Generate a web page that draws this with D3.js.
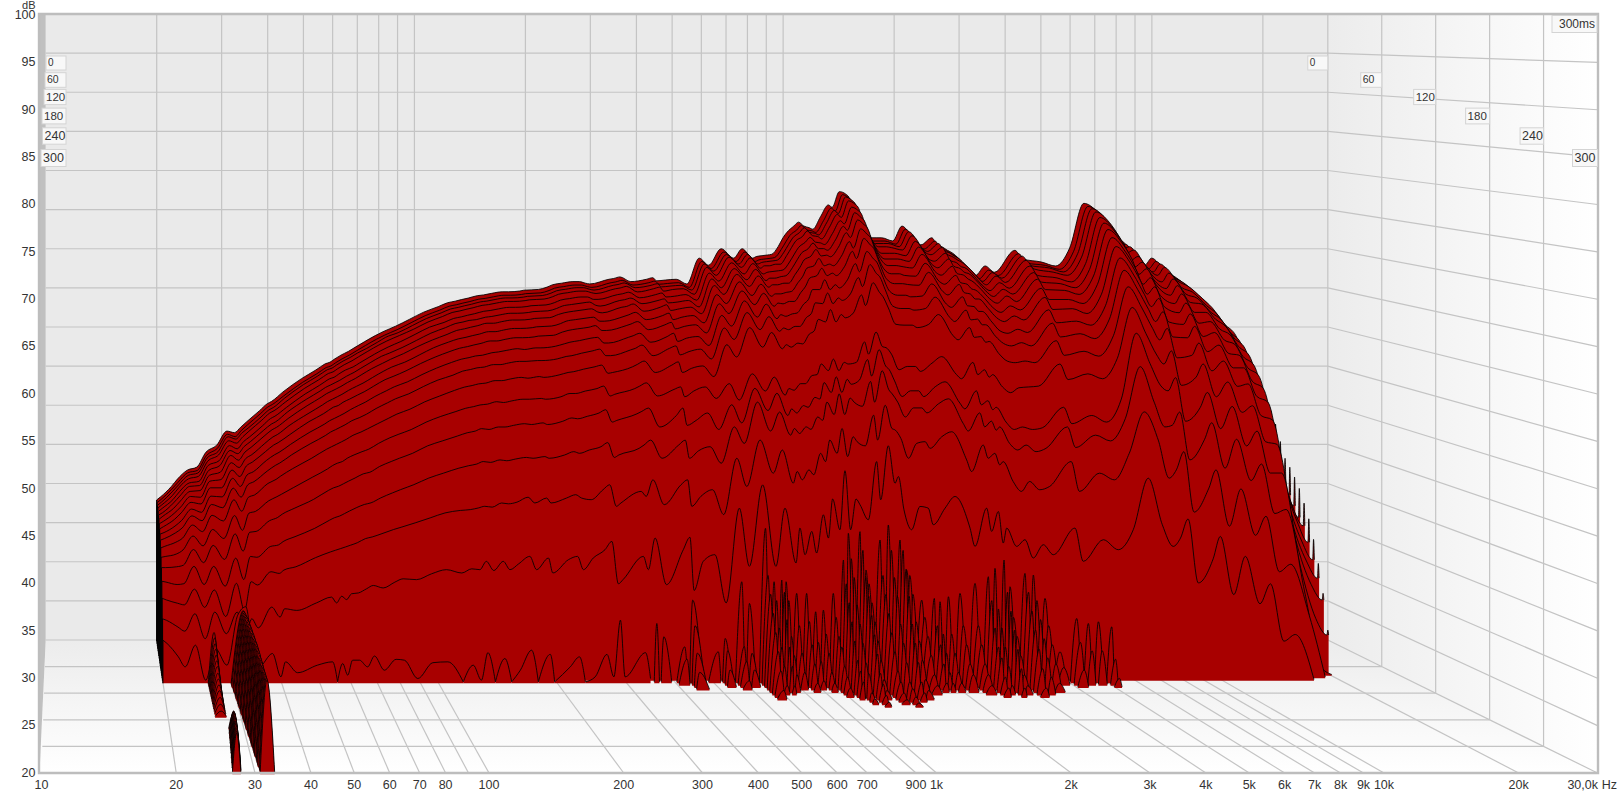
<!DOCTYPE html>
<html><head><meta charset="utf-8"><style>html,body{margin:0;background:#fff}svg{display:block}</style>
<script src="https://cdn.jsdelivr.net/npm/d3@7"></script></head><body>
<svg id="c" width="1617" height="795"></svg>
<script>
// ---------- axis labels ----------
const dbTicks=[100,95,90,85,80,75,70,65,60,55,50,45,40,35,30,25,20];
const freqTicks=[10,20,30,40,50,60,70,80,90,100,200,300,400,500,600,700,800,900,1000,2000,3000,4000,5000,6000,7000,8000,9000,10000,20000,30000];
const freqLabels=["10","20","30","40","50","60","70","80","","100","200","300","400","500","600","700","","900","1k","2k","3k","4k","5k","6k","7k","8k","9k","10k","20k","30,0k"];
const timeTicks=[0,60,120,180,240,300];
const timeLabelY=[63,80,97,116,136,158];
const timeLabelFont=[10,10.5,11.5,11.5,12.5,12.5];
const timeStepMs=300/54;
// ---------- frequencies of the full slices ----------
const lowFreqs=[20,20.5,21.9,22.8,24.2,25.7,27.2,29.1,31,32.5,33.8,35.1,38,39.9,41,44,49.4,54,55.6,57.3,59,60.7,63.2,66.3,69,73.1,78.3,82.2,88.9,97.1,106,116,123,129,134,140,148,154,162,173,180,193,198,217,229,237,251,269,280,291,299,337,347];
const midFreqs=[361,386,426,443,454,479,513,548,592,628,679,734,774,826,845,871,906,932,970,999,1024,1069,1101,1138,1175,1203,1263,1326,1358,1420,1477,1507,1557,1629,1710,1796,1850,1982,2101,2295,2363,2530,2606,2710,2790,2846,3018,3170,3327,3529,3743,4250,4463,5021,5482,5985];
const highFreqs=[6537,7100,7570,7900,8260,8770,9570,9980,10800,11560,12600,13400,14500,15500,17300,19000,20300,20400,20500];
// ---------- dB per slice (0 = below the 20 dB floor) ----------
const lowDb=[
[37.9,38.3,39.6,40.6,41.7,42.1,44,44.9,46.7,46.5,47.2,47.9,49.3,50.2,50.5,51.7,53.4,54.5,54.9,55.3,55.5,55.9,56.4,56.9,57.4,58.1,58.9,59.4,60.1,61,61.9,62.6,63.1,63.3,63.5,63.7,64,64.1,64.3,64.5,64.5,64.6,64.7,64.8,65.1,65.4,65.6,65.8,65.8,65.6,65.5,66.1,66.2],
[37.8,38.2,39.5,40.4,41.6,41.9,43.8,44.7,46.5,46.2,47,47.7,49.1,50,50.3,51.4,53.1,54.2,54.6,55,55.2,55.6,56.1,56.6,57.1,57.8,58.6,59.1,59.8,60.7,61.6,62.3,62.8,63,63.2,63.4,63.7,63.8,64,64.2,64.2,64.3,64.4,64.5,64.8,65.1,65.3,65.5,65.5,65.3,65.2,65.8,65.9],
[37.7,38.1,39.4,40.3,41.5,41.8,43.7,44.5,46.4,46.1,46.9,47.5,48.9,49.8,50.1,51.3,53,54.1,54.5,54.9,55.1,55.5,56,56.5,57,57.6,58.4,59,59.6,60.5,61.4,62.1,62.6,62.8,63,63.2,63.5,63.6,63.8,64,64,64.1,64.2,64.3,64.6,64.9,65.1,65.3,65.3,65.1,65,65.6,65.7],
[37.6,38,39.2,40.2,41.3,41.6,43.5,44.3,46.1,45.8,46.6,47.3,48.7,49.6,49.9,51,52.7,53.8,54.2,54.6,54.8,55.2,55.7,56.2,56.7,57.4,58.2,58.7,59.4,60.2,61.1,61.8,62.3,62.5,62.7,62.9,63.2,63.3,63.5,63.7,63.7,63.8,63.9,64,64.3,64.6,64.8,65,65,64.8,64.7,65.3,65.4],
[37.4,37.8,38.9,39.9,41,41.2,43.2,43.8,45.7,45.3,46.2,46.8,48.2,49.1,49.4,50.5,52.2,53.3,53.7,54.1,54.3,54.7,55.2,55.6,56.1,56.8,57.6,58.1,58.8,59.7,60.6,61.2,61.7,61.9,62.1,62.3,62.6,62.7,62.9,63.1,63.1,63.2,63.3,63.4,63.7,64,64.2,64.4,64.4,64.1,64.1,64.7,64.8],
[37.2,37.5,38.7,39.6,40.8,40.9,42.8,43.4,45.3,44.9,45.8,46.4,47.8,48.6,48.9,50.1,51.7,52.8,53.2,53.5,53.8,54.1,54.6,55.1,55.6,56.3,57.1,57.5,58.2,59.1,60,60.7,61.2,61.4,61.6,61.7,62,62.1,62.3,62.5,62.5,62.6,62.7,62.8,63.1,63.4,63.6,63.8,63.9,63.5,63.4,64.1,64.2],
[36.9,37.3,38.3,39.2,40.4,40.5,42.4,42.8,44.9,44.3,45.3,45.9,47.3,48.1,48.4,49.5,51.1,52.2,52.6,52.9,53.2,53.5,54,54.5,55,55.7,56.4,56.9,57.6,58.5,59.3,60,60.5,60.7,60.9,61.1,61.4,61.4,61.6,61.8,61.8,61.9,62,62.1,62.5,62.7,62.9,63.1,63.2,62.8,62.7,63.4,63.5],
[36.6,36.9,37.9,38.7,40,39.9,41.9,42.1,44.2,43.6,44.7,45.2,46.6,47.4,47.7,48.8,50.3,51.4,51.8,52.1,52.4,52.7,53.2,53.7,54.1,54.8,55.6,56.1,56.7,57.6,58.5,59.2,59.6,59.8,60,60.2,60.5,60.5,60.7,60.9,60.9,61,61.1,61.2,61.5,61.8,62,62.2,62.3,61.8,61.8,62.4,62.6],
[36.2,36.5,37.4,38.2,39.5,39.3,41.3,41.3,43.5,42.7,44,44.5,45.8,46.6,46.9,47.9,49.5,50.5,50.9,51.3,51.5,51.9,52.3,52.8,53.2,53.9,54.7,55.1,55.8,56.7,57.5,58.2,58.6,58.8,59,59.2,59.5,59.5,59.7,59.9,59.9,60,60.1,60.2,60.6,60.8,61,61.2,61.4,60.8,60.8,61.4,61.6],
[35.8,36,36.8,37.5,38.9,38.5,40.5,40.4,42.7,41.7,43.1,43.5,44.9,45.6,45.9,46.9,48.4,49.4,49.8,50.1,50.4,50.7,51.2,51.7,52.1,52.8,53.5,54,54.6,55.5,56.3,57,57.4,57.6,57.8,57.9,58.2,58.3,58.5,58.7,58.6,58.8,58.8,59,59.3,59.5,59.7,60,60.1,59.4,59.4,60.1,60.3],
[35.3,35.5,36.2,36.8,38.3,37.7,39.7,39.3,41.7,40.6,42.1,42.5,43.8,44.5,44.8,45.8,47.2,48.2,48.6,48.9,49.2,49.5,50,50.4,50.8,51.5,52.2,52.7,53.3,54.2,55,55.6,56.1,56.3,56.5,56.6,56.9,56.9,57.1,57.3,57.3,57.4,57.4,57.6,57.9,58,58.3,58.6,58.8,58,58,58.7,58.9],
[34.6,34.8,35.3,35.8,37.4,36.6,38.6,37.9,40.5,39.1,40.8,41.1,42.5,43,43.4,44.3,45.6,46.7,47,47.3,47.6,47.9,48.4,48.8,49.2,49.8,50.5,51,51.6,52.5,53.2,53.9,54.3,54.5,54.7,54.8,55.1,55.1,55.3,55.5,55.4,55.6,55.5,55.8,56.1,56.2,56.5,56.8,57,56,56.1,56.8,57.1],
[33.7,33.8,34.1,34.6,36.3,35.1,37.1,36,38.8,37,39.1,39.3,40.6,41.1,41.4,42.2,43.5,44.5,44.9,45.2,45.4,45.8,46.2,46.6,46.9,47.6,48.3,48.7,49.3,50.2,50.9,51.5,51.9,52.1,52.3,52.4,52.7,52.6,52.8,53,53,53.1,53,53.3,53.7,53.7,54,54.3,54.6,53.4,53.6,54.3,54.6],
[32.7,32.7,32.8,33,34.9,33.3,35.4,33.7,36.8,34.7,37,37.1,38.4,38.8,39.2,39.9,41,42.1,42.4,42.6,42.9,43.2,43.6,44.1,44.3,45,45.6,46,46.6,47.5,48.1,48.7,49.1,49.3,49.6,49.5,49.8,49.8,50,50.2,50.1,50.3,50.1,50.5,50.9,50.8,51.1,51.5,51.9,50.4,50.6,51.4,51.7],
[31.3,31.2,30.9,31,33.1,30.9,33.1,30.7,34.1,31.5,34.3,34.2,35.5,35.7,36.1,36.7,37.7,38.7,39,39.2,39.5,39.8,40.2,40.6,40.8,41.4,42,42.4,43,43.8,44.4,45,45.3,45.5,45.8,45.7,46,45.9,46.1,46.3,46.2,46.4,46.2,46.6,47,46.8,47.2,47.6,48.1,46.3,46.6,47.4,47.8],
[29.5,29.3,28.9,28.7,30.6,28.4,30.5,27.3,31.3,28,31.5,31.1,32.7,32.5,32.9,33.3,34.4,35.1,35.3,35.5,35.7,35.9,36.2,36.7,36.9,37.3,37.8,38.1,38.6,39.2,39.8,40.1,40.2,40.4,40.6,40.5,41,40.9,41.1,41.7,41,41.6,41,41.6,42,41.6,41.4,42.6,43.2,40.6,41,42.4,41.8],
[27.3,27.1,26.3,25.8,27.9,24.9,28.1,25.5,28.1,25.1,27.3,26.2,28.7,27.5,28.5,28.3,29.2,29.9,29.2,30,29.6,30.3,30.4,30.9,31.3,31,31.7,32.1,32,32.7,33.2,32.8,33.3,33.2,34.2,33.1,34.2,33.2,33.9,34.8,33.2,34.6,32.8,34.4,34.8,33.2,34.6,35.6,36.6,31.5,32,34.8,33.2],
[25,24.6,23,21.8,24.4,20.2,24,22,28,29,24,21.8,23.4,20.6,22.4,21.1,22,22.4,0,22.2,20.8,22.6,22.6,21.8,23.1,21.4,22.7,22.6,20.4,22.3,22.4,0,22,20.2,23.5,0,22.8,0,21.4,23.8,0,23.3,0,21.8,23,0,20.6,23.3,20.6,27.4,20.6,23.5,20.4]
];
const midDb=[
[66.4,65.8,66.1,66.3,65.9,66,66.1,65.5,68.8,67.9,70,68.8,70,68.8,69,69.1,69.2,69.3,70.3,71.4,72.1,72.9,73.4,72.9,72.7,72.5,74.1,75.6,75.3,77.3,77,76.6,74.7,72.6,71.4,71.4,71.4,71,72.9,70.7,70.5,71.4,70.6,70.2,69.8,69.6,68.6,67.5,66.6,67.8,67,69.8,68.7,68.3,67.8,70.1],
[66.1,65.5,65.8,66,65.6,65.7,65.8,65.2,68.5,67.6,69.7,68.5,69.7,68.5,68.7,68.8,68.9,69,70,71,71.8,72.5,73.1,72.5,72.4,72.2,73.7,75.3,74.9,77,76.6,76.2,74.3,72.2,71.1,71.1,71.1,70.7,72.6,70.4,70.1,71.1,70.2,69.9,69.5,69.3,68.2,67.2,66.3,67.4,66.7,69.5,68.3,68,67.5,69.8],
[65.9,65.3,65.6,65.8,65.4,65.5,65.6,65,68.3,67.4,69.5,68.3,69.5,68.3,68.5,68.6,68.7,68.8,69.8,70.8,71.6,72.3,72.9,72.3,72.2,72,73.5,75.1,74.7,76.8,76.4,76,74.1,72,70.9,70.9,70.9,70.5,72.4,70.2,69.9,70.9,70,69.7,69.3,69.1,68,67,66.1,67.2,66.5,69.3,68.1,67.8,67.3,69.6],
[65.6,64.9,65.3,65.5,65,65.2,65.3,64.6,68,67,69.3,68,69.2,67.9,68.2,68.2,68.4,68.4,69.5,70.5,71.3,71.9,72.6,72,71.9,71.6,73.1,74.7,74.3,76.4,76,75.6,73.7,71.7,70.6,70.6,70.5,70.2,72,69.8,69.6,70.5,69.7,69.3,68.9,68.7,67.7,66.6,65.8,66.9,66.1,68.9,67.8,67.4,67,69.3],
[65,64.3,64.7,64.9,64.4,64.5,64.7,64,67.4,66.4,68.7,67.3,68.6,67.3,67.5,67.6,67.7,67.8,68.8,69.8,70.6,71.3,71.9,71.3,71.2,71,72.4,74,73.6,75.7,75.3,74.9,73,71,69.9,69.9,69.9,69.6,71.4,69.1,68.9,69.9,69,68.7,68.2,68.1,67,65.9,65.2,66.2,65.5,68.3,67.1,66.8,66.3,68.6],
[64.4,63.7,64.1,64.3,63.8,63.9,64.1,63.3,66.8,65.7,68.1,66.7,68,66.6,66.9,66.9,67.1,67.2,68.2,69.2,70,70.6,71.3,70.6,70.6,70.4,71.7,73.4,72.9,75.1,74.5,74.1,72.3,70.3,69.3,69.3,69.3,69,70.8,68.5,68.2,69.3,68.4,68.1,67.6,67.5,66.4,65.3,64.6,65.5,64.9,67.6,66.4,66.2,65.7,68],
[63.8,62.9,63.4,63.7,63,63.2,63.4,62.6,66.1,65,67.5,66,67.3,65.9,66.2,66.2,66.4,66.4,67.5,68.4,69.3,69.8,70.6,69.8,69.9,69.7,70.9,72.7,72.1,74.3,73.7,73.3,71.5,69.5,68.6,68.6,68.5,68.3,70,67.7,67.4,68.5,67.6,67.4,66.9,66.7,65.6,64.5,63.9,64.8,64.1,66.9,65.6,65.5,65,67.3],
[62.9,62,62.5,62.8,62,62.3,62.5,61.6,65.1,64,66.7,65,66.4,64.9,65.2,65.2,65.4,65.5,66.6,67.4,68.4,68.7,69.6,68.7,68.9,68.7,69.9,71.7,70.9,73.3,72.6,72.2,70.4,68.4,67.7,67.7,67.5,67.4,69,66.7,66.4,67.5,66.6,66.4,65.8,65.7,64.6,63.5,62.9,63.7,63.2,65.9,64.5,64.5,64,66.4],
[61.9,60.9,61.5,61.8,61,61.3,61.5,60.5,64.1,62.9,65.7,64,65.4,63.8,64.2,64.1,64.4,64.4,65.5,66.3,67.3,67.6,68.5,67.6,67.9,67.6,68.7,70.6,69.7,72.2,71.4,71,69.3,67.2,66.6,66.6,66.5,66.4,68,65.6,65.2,66.5,65.5,65.3,64.7,64.7,63.5,62.4,61.9,62.6,62.1,64.9,63.4,63.5,62.9,65.3],
[60.6,59.5,60.2,60.6,59.6,60,60.2,59.1,62.8,61.5,64.6,62.6,64.2,62.4,62.9,62.7,63,63.1,64.2,64.8,66,66,67.2,66,66.6,66.2,67.2,69.2,68.2,70.7,69.8,69.4,67.8,65.8,65.3,65.3,65.1,65.2,66.7,64.2,63.8,65.1,64,63.9,63.3,63.3,62,60.9,60.6,61.1,60.7,63.5,61.9,62.1,61.6,64],
[59.3,58,58.9,59.2,58.1,58.5,58.8,57.6,61.4,60,63.3,61.2,62.8,61,61.4,61.2,61.6,61.6,62.7,63.2,64.5,64.4,65.7,64.4,65.1,64.8,65.6,67.6,66.5,69.2,68.1,67.7,66.1,64.1,63.8,63.8,63.6,63.8,65.2,62.7,62.2,63.6,62.4,62.5,61.8,61.8,60.4,59.5,59.2,59.6,59.2,62,60.3,60.7,60.1,62.5],
[57.5,56.1,57,57.4,56.1,56.6,56.9,55.6,59.5,58,61.6,59.2,61,59,59.5,59.2,59.7,59.6,60.8,61.2,62.6,62.3,63.8,62.3,63.2,62.8,63.4,65.6,64.3,67.1,65.9,65.4,64,62,61.9,61.9,61.6,62,63.2,60.6,60.1,61.6,60.4,60.5,59.8,59.9,58.4,57.5,57.3,57.5,57.3,60,58.2,58.7,58.1,60.6],
[55,53.4,54.2,54.5,53.3,54,54.5,53.1,54.9,52.9,56.1,54,55.7,53.5,54.3,54.1,54.9,54.9,55.9,56,57.3,56.5,57.9,56.5,57.5,57.3,57.5,60,58.5,61.2,59.4,59.3,58.5,56.6,57,57,56.4,57.4,58.2,56,55.5,57.5,56,56.6,55.7,56,54.5,53.8,54.4,54.5,54.6,57.3,55.4,56.1,55.5,58],
[52.1,49.8,51.2,52.1,50,50.6,51.5,49.5,52.5,50.3,54.5,51.8,53.9,51.2,52,51.5,52.4,52.2,53.4,53.2,55.2,54,55.9,54,55.6,55,55.5,58,56,59.2,57.2,56.8,55.4,53.5,54.2,54.2,53.5,54.7,55.3,52.7,52,54.2,52.5,53,51.9,52.2,50.4,49.5,49.8,49.5,49.7,52.2,50.2,51.2,50.4,53.2],
[48.4,46.2,47.8,48.4,46.2,47.1,47.6,45.6,50,48,53,49.5,51.8,49,49.8,49.2,50,49.7,51.2,50.8,53,51.5,54,51.5,53.5,53,52.5,55.5,53,56.8,54.5,54,53,51.2,52.3,52.3,51.7,52.8,53.4,50.4,49.5,51.7,50,50.7,49.6,50,48,47.2,47.8,47,47.4,50,47.5,49,48.3,51],
[43.8,40.8,43.2,43.8,40.6,41.8,42.6,39.6,46.4,43,48.6,44.6,47.4,43.4,44.8,43.8,45,44.4,47,46,48.6,47,50,46.6,49,48.4,47.9,51.6,48.6,52.8,50,49.8,48.8,46.4,48.2,48.4,47.6,49,49.6,46.2,44.8,48,46.4,47,45.6,46,43.6,42.4,43.6,42.6,43,46,42.4,44.6,43.8,47],
[37,31.4,35.6,37.1,30.7,34.2,35,29.2,40.6,33.6,43.4,33.6,40.6,34,38.2,35,37.8,35.2,39.8,37,41.7,38,45.1,38,41.7,41,39.2,46.2,41.6,48.1,43.6,44.4,40.4,38,40.8,40.6,38.6,40.6,42,38.2,36,40.6,37.8,40.2,36.4,38.2,36,36.8,34.6,36.2,35,38.2,34.2,36.8,35.6,38]
];
const highDb=[
[75.8,74.7,72.7,70.9,71,69.6,67.9,68.8,67.3,66.4,65,63.7,61.8,60.3,55.5,51.7,49.6,51,49.6],
[75.5,74.4,72.3,70.5,70.7,69.2,67.6,68.5,66.9,66.1,64.6,63.4,61.3,59.9,54.6,50,47.4,49.5,47.4],
[75.3,74.1,72.1,70.2,70.5,69,67.3,68.3,66.7,65.9,64.4,63.2,61.1,59.6,53.6,48.3,45.2,48,45.2],
[75,73.7,71.7,69.8,70.2,68.6,67,68,66.3,65.6,64.1,62.9,60.8,59.4,52.3,46.7,43,46,43],
[74.4,73,71,69,69.5,67.8,66.3,67.4,65.6,65,63.3,62.3,60,58.7,51,45,41,44.1,41],
[73.8,72.3,70.2,68.3,68.9,67,65.6,66.8,64.9,64.4,62.6,61.7,59.4,58.1,49.9,43.4,39.7,43.2,39.7],
[73.1,71.5,69.4,67.5,68.2,66.2,64.9,66.1,64,63.8,61.9,61,58.5,57.3,48.7,42,38.6,42.2,38.6],
[72.2,70.4,68.2,66.4,67.2,65,64,65.2,62.9,62.9,60.8,60.1,57.4,56.3,47,40.6,37.4,41,37.4],
[71.2,69.3,67,65.3,66.2,63.7,63,64.2,61.7,61.9,59.6,59.1,56.2,55.2,45.4,39,36.6,39.4,36.6],
[69.9,67.8,65.4,63.9,64.9,62,61.7,63,60.2,60.7,58.1,57.9,54.7,53.8,43.2,37.4,34.8,37.7,34.8],
[68.5,66.1,63.7,62.2,63.4,60.3,60.2,61.6,58.5,59.3,56.5,56.5,53,52.3,40.9,35.2,32.9,35.4,32.9],
[66.6,64,61.5,60.1,61.5,57.9,58.2,59.7,56.3,57.5,54.4,54.7,50.8,50.3,38.4,33,30.9,32.7,30.9],
[64.2,61,58.4,57.3,58.9,54.7,55.7,57.3,53.3,55.1,51.4,52.2,47.8,47.5,36,30.4,28.5,29.3,28.5],
[61.2,57.5,54.8,54.2,55.8,50.5,52.2,54,49.6,52.3,47.5,49.3,44.2,44.2,33,26.5,24.5,25.1,24.5],
[57.3,53,50,50.2,51.8,46,48.5,50.5,45,48.5,43.5,45.5,39.5,40,30,21,0,0,0],
[52,48.6,44,45,47.2,39.9,42.8,45,38.2,42.7,37.1,39.4,32.7,33.6,27.4,0,0,0,0],
[44.2,38.6,36,37,39.3,31.6,34.5,37.2,30.2,34.8,29.1,31.5,24.6,25.4,0,0,0,0,0]
];
// ---------- isolated resonances of the late slices (slice 17 onward) ----------
const modeFreqs=[360,375,424,444,516,537,592,619,680,715,748,767,816,865,912,954,1011,1073,1104,1182,1224,1329,1395,1494,1553,1696,1826,1888,1983,2122,2317,2505,2604,2746,2843,3104,3259,3489,3809,4201,4497,4769,5156];
const modeDb=[
[27,25.4,24.2,29.8,23.6,25.2,32,29.4,38.4,32,32.2,32,30.6,30.6,28.4,28.6,30.6,34.6,37.8,38,33.4,37,38.8,37,33.4,29.8,30,29.6,30.2,30.6,31.8,32.6,33.6,34.6,31.4,33,32.8,30,23.6,27.6,27,27.2,26.6],
[0,0,23,27,0,24,24.5,23.7,33,30,31,30,27,27.5,25,26,28,32,35,36,32,33,36,36,33,28,27,26,26,27,27,30,29,31,28,31,30,27,22,25,24,24,23],
[0,0,0,24,0,22,23,22,31,27,28,26,24,25,23,24,26,30,33,33,30,31,33,34,31,26,25,24,24,25,25,27,27,29,26,29,28,25,0,22,0,0,21],
[0,0,0,22,0,0,21,0,29,25,25,24,22,23,21,22,25,28,30,31,28,29,31,31,28,24,23,22,22,23,23,25,25,27,24,27,26,23,0,0,0,0,0],
[0,0,0,0,0,0,0,0,27,23,23,22,0,21,0,21,23,26,28,29,26,27,28,28,26,22,21,21,21,22,22,24,23,25,22,25,24,21,0,0,0,0,0],
[0,0,0,0,0,0,0,0,25,21,21,0,0,0,0,0,22,24,26,27,24,25,26,26,24,21,0,0,0,0,21,22,21,23,21,23,22],
[0,0,0,0,0,0,0,0,23,0,0,0,0,0,0,0,21,23,24,25,22,23,24,24,22,0,0,0,0,0,0,21,0,21,0,21],
[0,0,0,0,0,0,0,0,21,0,0,0,0,0,0,0,0,22,23,23,21,22,22,22,21],
[0,0,0,0,0,0,0,0,0,0,0,0,0,0,0,0,0,0,21,22,0,21,21.5,21],
[0,0,0,0,0,0,0,0,0,0,0,0,0,0,0,0,0,0,20.6,21,0,20.5,20.8],
[0,0,0,0,0,0,0,0,0,0,0,0,0,0,0,0,0,0,0,20.5,0,0,20.4]
];
const modeFirstSlice=17;
// ---------- long-ringing low resonances ----------
const mainFirstSlice=18, mainApexHz=31.9, mainRightHz=33.2;
const mainPeakDb=[28.8,29,29.1,29.2,29.3,29.4,29.5,29.5,29.6,29.6,29.7,29.7,29.8,29.8,29.8,29.9,29.9,29.9,29.9,30,30,30,30,30,30,29.9,29.9,29.9,29.9,29.8,29.8,29.8,29.8,29.8,29.8,29.8,29.8];
const mainLeftHz=[29.7,29.7,29.8,29.8,29.9,29.9,29.9,30,30,30,30.1,30.1,30.1,30.2,30.2,30.2,30.3,30.3,30.3,30.4,30.4,30.4,30.5,30.5,30.5,30.5,30.6,30.6,30.6,30.6,30.7,30.7,30.7,30.7,30.8,30.8,30.8];
const secondFirstSlice=18, secondApexHz=26.9, secondLeftHz=26.0, secondRightHz=27.7;
const secondPeakDb=[26.2,25.8,25.4,25,24.6,24.2,23.8,23.3,22.9,22.5,22.1,21.6,21.1,20.6];
const thirdFirstSlice=36;
const thirdPeakDb=[21.5,22,22.4,22.8,23,23.2,23.4,23.6,23.7,23.8,23.9,24,24,24.1,24.2,24.2,24.2,24.2,24.2];
const thirdApexHz=[28.2,28.2,28.1,28.1,28,28,27.9,27.9,27.8,27.8,27.7,27.7,27.6,27.6,27.5,27.5,27.4,27.4,27.3];

// ---------- projection ----------
const svg=d3.select("#c");
const xBack=d3.scaleLog().domain([10,30000]).range([45.7,1327.8]);
const xFront=d3.scaleLog().domain([10,30000]).range([41.5,1597.5]);
const yBack=d3.scaleLinear().domain([20,100]).range([640,14]);
const yFront=d3.scaleLinear().domain([20,100]).range([773,15]);
const depth=d3.scaleLinear().domain([0,300]).range([0,1]);
const px=(f,t)=>xBack(f)+(xFront(f)-xBack(f))*depth(t);
const py=(d,t)=>yBack(d)+(yFront(d)-yBack(d))*depth(t);

// ---------- walls ----------
const defs=svg.append("defs");
const g1=defs.append("linearGradient").attr("id","rw").attr("gradientUnits","userSpaceOnUse").attr("x1",1328).attr("x2",1598).attr("y1",0).attr("y2",0);
g1.append("stop").attr("offset",0).attr("stop-color","#ececec");g1.append("stop").attr("offset",1).attr("stop-color","#ffffff");
const g2=defs.append("linearGradient").attr("id","fl").attr("gradientUnits","userSpaceOnUse").attr("x1",0).attr("x2",0).attr("y1",640).attr("y2",773);
g2.append("stop").attr("offset",0).attr("stop-color","#ececec");g2.append("stop").attr("offset",1).attr("stop-color","#ffffff");
const poly=(pts,fill)=>svg.append("polygon").attr("points",pts.map(p=>p.join(",")).join(" ")).attr("fill",fill);
const bl=[xBack(10),yBack(20)],br=[xBack(30000),yBack(20)],fl=[xFront(10)-2,yFront(20)],fr=[xFront(30000),yFront(20)];
const tl=[xBack(10),yBack(100)],tr=[xBack(30000),yBack(100)];
poly([tl,tr,br,bl],"#eaeaea");
poly([tr,[fr[0],tr[1]],fr,br],"url(#rw)");
poly([bl,br,fr,fl],"url(#fl)");
poly([[39,14],tl,bl,fl],"#c0c0c0");
const grid=svg.append("g").attr("stroke","#c4c4c4").attr("stroke-width",1.2).attr("fill","none");
const seg=(a,b)=>grid.append("line").attr("x1",a[0]).attr("y1",a[1]).attr("x2",b[0]).attr("y2",b[1]);
freqTicks.slice(1,-1).forEach(f=>{
  seg([xBack(f),yBack(100)],[xBack(f),yBack(20)]);
  seg([xBack(f),yBack(20)],[xFront(f),yFront(20)]);
});
seg(tr,br);seg(br,fr);seg(bl,br);
dbTicks.slice(1,-1).forEach(d=>{
  seg([xBack(10),yBack(d)],[xBack(30000),yBack(d)]);
  seg([xBack(30000),yBack(d)],[xFront(30000),yFront(d)]);
});
timeTicks.slice(1,-1).forEach(t=>{
  seg([px(30000,t),yBack(100)],[px(30000,t),py(20,t)]);
  seg([px(10,t),py(20,t)],[px(30000,t),py(20,t)]);
});

// ---------- waterfall ----------
const plot=svg.append("g");
const FILL="#a80000";
function drawShape(points,t,leftEdge){
  const base=py(20,t)+1.3;
  const area=d3.area().curve(d3.curveMonotoneX).x(p=>px(p[0],t)).y1(p=>py(p[1],t)).y0(base);
  const line=d3.line().curve(d3.curveMonotoneX).x(p=>px(p[0],t)).y(p=>py(p[1],t));
  plot.append("path").attr("d",area(points)).attr("fill",FILL).attr("stroke","none");
  plot.append("path").attr("d",line(points)).attr("fill","none").attr("stroke","#000").attr("stroke-opacity",.86).attr("stroke-width",1);
  if(leftEdge){
    const e=points[0];
    plot.append("line").attr("x1",px(e[0],t)).attr("x2",px(e[0],t)).attr("y1",py(e[1],t)).attr("y2",base).attr("stroke","#000").attr("stroke-width",1.2);
  }
}
function drawGrid(freqs,vals,t){
  let cur=null;
  freqs.forEach((f,k)=>{
    const v=vals[k]||0;
    if(v>20){
      if(!cur){cur=[];if(k>0)cur.push([freqs[k-1],20]);}
      cur.push([f,v]);
    }else if(cur){
      cur.push([f,20]);drawShape(cur,t,cur[0][1]>20);cur=null;
    }
  });
  if(cur)drawShape(cur,t,cur[0][1]>20);
}
function drawModes(vals,t){
  modeFreqs.forEach((f,k)=>{
    const v=vals[k]||0;
    if(v<=20)return;
    const lo=k>0?Math.pow(modeFreqs[k-1]/f,.38)*f:f*.985;
    const hi=k<modeFreqs.length-1?Math.pow(modeFreqs[k+1]/f,.38)*f:f*1.015;
    drawShape([[lo,20],[f,v],[hi,20]],t,false);
  });
}
const allFreqs=lowFreqs.concat(midFreqs,highFreqs);
const lastSlice=54;
for(let i=0;i<=lastSlice;i++){
  const t=i*timeStepMs;
  if(i<lowDb.length-1){
    drawGrid(allFreqs,lowDb[i].concat(midDb[i],highDb[i]),t);
  }else if(i===lowDb.length-1){
    drawGrid(lowFreqs,lowDb[i],t);
  }
  const m=modeDb[i-modeFirstSlice];
  if(m)drawModes(m,t);
  const s2=secondPeakDb[i-secondFirstSlice];
  if(s2)drawShape([[secondLeftHz,20],[secondApexHz,s2],[secondRightHz,20]],t,false);
  const s3=thirdPeakDb[i-thirdFirstSlice];
  if(s3){const a=thirdApexHz[i-thirdFirstSlice];drawShape([[a-.6,20],[a,s3],[a+.6,20]],t,false);}
  const s1=mainPeakDb[i-mainFirstSlice];
  if(s1)drawShape([[mainLeftHz[i-mainFirstSlice],20],[mainApexHz,s1],[mainRightHz,20]],t,false);
}

// ---------- frame and labels ----------
svg.append("path").attr("d",`M39,14H1598V773H39Z`).attr("fill","none").attr("stroke","#bdbdbd").attr("stroke-width",2.4);
const font="'Liberation Sans',Arial,sans-serif";
const txt=(x,y,s,a,sz,c)=>svg.append("text").attr("x",x).attr("y",y).attr("text-anchor",a).attr("font-family",font).attr("font-size",sz).attr("fill",c||"#333").attr("dominant-baseline","middle").text(s);
dbTicks.forEach(d=>txt(35.5,d===100?16:yFront(d)+.5,d,"end",12.5));
txt(35.5,6,"dB","end",11);
freqTicks.forEach((f,k)=>{
  if(!freqLabels[k])return;
  if(f===30000)txt(1598,786,freqLabels[k],"end",12.5);
  else txt(xFront(f),786,freqLabels[k],"middle",12.5);
});
txt(1617,786,"Hz","end",12.5);
function box(x1,x2,yc,h,s,sz,anchor){
  svg.append("rect").attr("x",x1).attr("y",yc-h/2).attr("width",x2-x1).attr("height",h).attr("fill","#f8f8f8").attr("stroke","#d4d4d4").attr("stroke-width",1);
  txt(anchor==="end"?x2-2:x1+2,yc+.5,s,anchor||"start",sz);
}
timeTicks.forEach((t,k)=>{
  const wd=[20,21,22,24,23.5,25][k];
  const sz=timeLabelFont[k];
  box(66-wd,66,timeLabelY[k],14+k*.6,t,sz,"start");
  const r=px(30000,t);
  box(r-wd,r,timeLabelY[k],14+k*.6,t,sz,"start");
});
box(1552,1597,24,17,"300ms",12,"end");
</script></body></html>
